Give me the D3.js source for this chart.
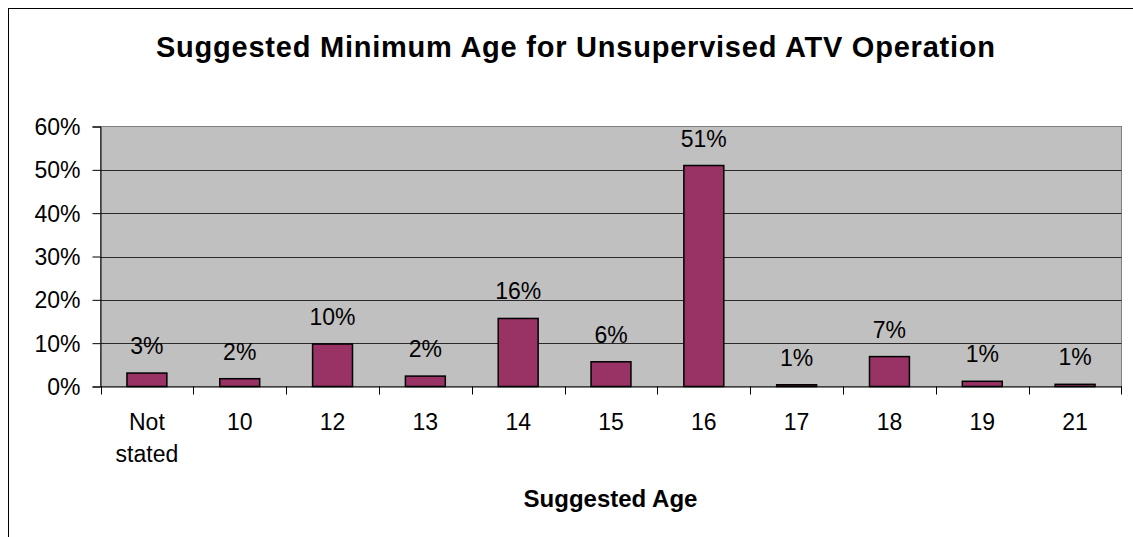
<!DOCTYPE html>
<html>
<head>
<meta charset="utf-8">
<script src="https://cdn.jsdelivr.net/npm/d3@7"></script>
<style>
  html, body { margin: 0; padding: 0; background: #fff; }
  svg { display: block; font-family: "Liberation Sans", Arial, sans-serif; }
</style>
</head>
<body>
<svg id="chart" width="1133" height="537"></svg>
<script>
const categories = ["Not stated", "10", "12", "13", "14", "15", "16", "17", "18", "19", "21"];
const values = [3.1, 1.8, 9.8, 2.4, 15.7, 5.7, 51.0, 0.4, 6.9, 1.2, 0.5];
const valueLabels = ["3%", "2%", "10%", "2%", "16%", "6%", "51%", "1%", "7%", "1%", "1%"];
const yTicks = [0, 10, 20, 30, 40, 50, 60];
const titleText = "Suggested Minimum Age for Unsupervised ATV Operation";
const xTitleText = "Suggested Age";

const svg = d3.select("#chart");
const plot = { left: 100.5, right: 1121.5, top: 126.5, bottom: 386.5 };
const labelFont = 23;

// outer chart frame (extends beyond viewport)
svg.append("rect")
  .attr("x", 8.5).attr("y", 8.5)
  .attr("width", 1300).attr("height", 700)
  .attr("fill", "#fff").attr("stroke", "#000").attr("stroke-width", 1);

const x = d3.scaleBand().domain(categories).range([plot.left, plot.right]).paddingInner(0.57).paddingOuter(0.285);
const xb = d3.scaleBand().domain(categories).range([plot.left, plot.right]);
const y = d3.scaleLinear().domain([0, 60]).range([plot.bottom, plot.top]);

// plot area
svg.append("rect")
  .attr("x", plot.left).attr("y", plot.top)
  .attr("width", plot.right - plot.left).attr("height", plot.bottom - plot.top)
  .attr("fill", "#C0C0C0").attr("stroke", "#808080").attr("stroke-width", 1);

// gridlines
svg.append("g").selectAll("line")
  .data(yTicks.filter(t => t > 0 && t < 60))
  .join("line")
  .attr("x1", plot.left).attr("x2", plot.right)
  .attr("y1", d => Math.round(y(d)) + 0.5).attr("y2", d => Math.round(y(d)) + 0.5)
  .attr("stroke", "#2a2a2a").attr("stroke-width", 1.2);

// y axis
const yAxis = d3.axisLeft(y).tickValues(yTicks).tickFormat(d => d + "%").tickSize(8).tickPadding(12);
const gy = svg.append("g").attr("transform", `translate(${plot.left},0)`).call(yAxis);
gy.select(".domain").attr("stroke", "#000");
gy.selectAll(".tick line").attr("stroke", "#000");
gy.selectAll(".tick text").attr("font-size", labelFont).attr("fill", "#000")
  .attr("font-family", "Liberation Sans, Arial, sans-serif").attr("dy", "0.35em");

// x axis
const xAxis = d3.axisBottom(xb).tickSize(0).tickFormat("");
const gx = svg.append("g").attr("transform", `translate(0,${plot.bottom})`).call(xAxis);
gx.select(".domain").attr("stroke", "#000");
// category boundary ticks
const bounds = categories.map(c => xb(c)).concat([xb(categories[categories.length - 1]) + xb.bandwidth()]);
svg.append("g").selectAll("line").data(bounds).join("line")
  .attr("x1", d => Math.round(d) + 0.5).attr("x2", d => Math.round(d) + 0.5)
  .attr("y1", plot.bottom).attr("y2", plot.bottom + 8)
  .attr("stroke", "#000").attr("stroke-width", 1);

// x labels
const xl = svg.append("g").selectAll("text").data(categories).join("text")
  .attr("x", d => xb(d) + xb.bandwidth() / 2)
  .attr("y", 430)
  .attr("text-anchor", "middle")
  .attr("font-size", labelFont)
  .attr("fill", "#000");
xl.each(function(d) {
  const parts = d.split(" ");
  const t = d3.select(this);
  parts.forEach((p, i) => {
    t.append("tspan").attr("x", xb(d) + xb.bandwidth() / 2).attr("dy", i === 0 ? 0 : 31.5).text(p);
  });
});

// bars
svg.append("g").selectAll("rect").data(values).join("rect")
  .attr("x", (d, i) => x(categories[i]))
  .attr("y", d => y(d))
  .attr("width", x.bandwidth())
  .attr("height", d => y(0) - y(d))
  .attr("fill", "#993366")
  .attr("stroke", "#000")
  .attr("stroke-width", 1.5);

// data labels
svg.append("g").selectAll("text").data(values).join("text")
  .attr("x", (d, i) => xb(categories[i]) + xb.bandwidth() / 2)
  .attr("y", d => y(d) - 19)
  .attr("text-anchor", "middle")
  .attr("font-size", labelFont)
  .attr("fill", "#000")
  .text((d, i) => valueLabels[i]);

// title
svg.append("text")
  .attr("x", 575.5).attr("y", 57)
  .attr("text-anchor", "middle")
  .attr("font-size", 29).attr("font-weight", "bold")
  .attr("textLength", 839).attr("lengthAdjust", "spacing")
  .text(titleText);

// x axis title
svg.append("text")
  .attr("x", 610.5).attr("y", 507)
  .attr("text-anchor", "middle")
  .attr("font-size", 24).attr("font-weight", "bold")
  .text(xTitleText);
</script>
</body>
</html>
